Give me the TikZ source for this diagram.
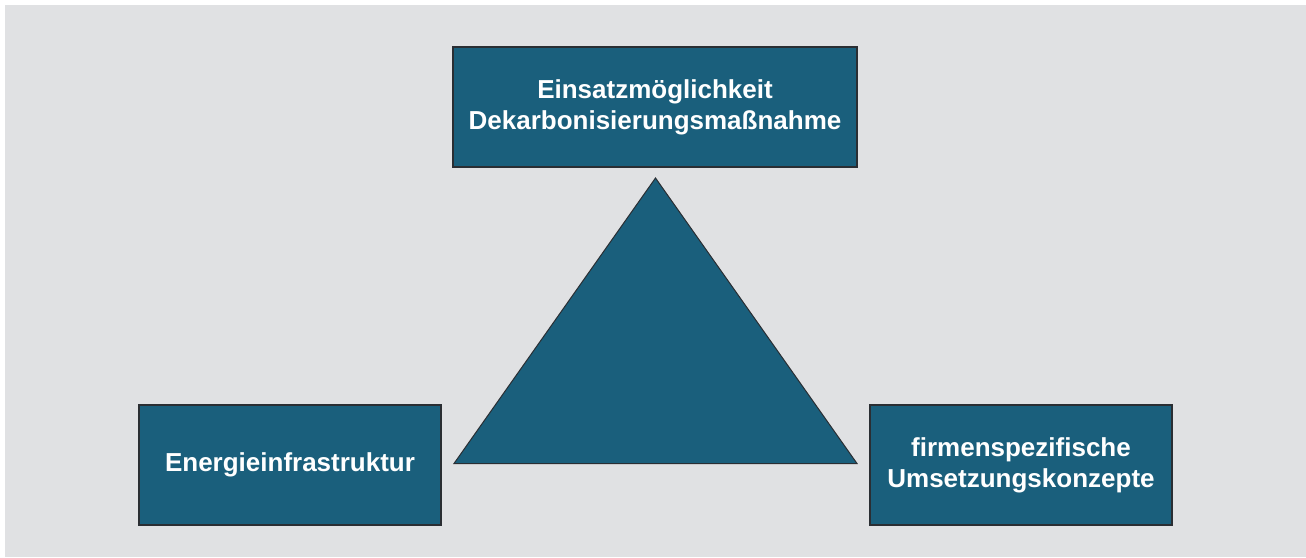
\documentclass[tikz,border=0pt]{standalone}
\usepackage{fontspec}
\setmainfont{Liberation Sans}
\definecolor{panel}{HTML}{E0E1E3}
\definecolor{petrol}{HTML}{1A5F7C}
\definecolor{edge}{HTML}{2A2E33}
\begin{document}
\begin{tikzpicture}[x=1pt,y=-1pt,
  box/.style={draw=edge,line width=1.2pt,fill=petrol,text=white,
    font=\bfseries\fontsize{26}{31}\selectfont,align=center,
    inner sep=0pt,minimum width=302pt,minimum height=120pt}]
  \useasboundingbox (0,0) rectangle (1306,557);
  \fill[white] (0,0) rectangle (1306,557);
  \fill[panel] (5,5) rectangle (1306,557);
  % triangle in the middle
  \draw[edge,fill=petrol,line width=1pt,line join=miter]
    (655.5,178) coordinate (apex) -- (857,463.5) coordinate (br)
    -- (454,463.5) coordinate (bl) -- cycle;
  % the three corner boxes
  \node[box,minimum width=404pt] (top) at (655,107)
    {Einsatzmöglichkeit\\Dekarbonisierungsmaßnahme};
  \node[box] (left) at (290,465) {Energieinfrastruktur};
  \node[box] (right) at (1021,465) {firmenspezifische\\Umsetzungskonzepte};
\end{tikzpicture}
\end{document}
